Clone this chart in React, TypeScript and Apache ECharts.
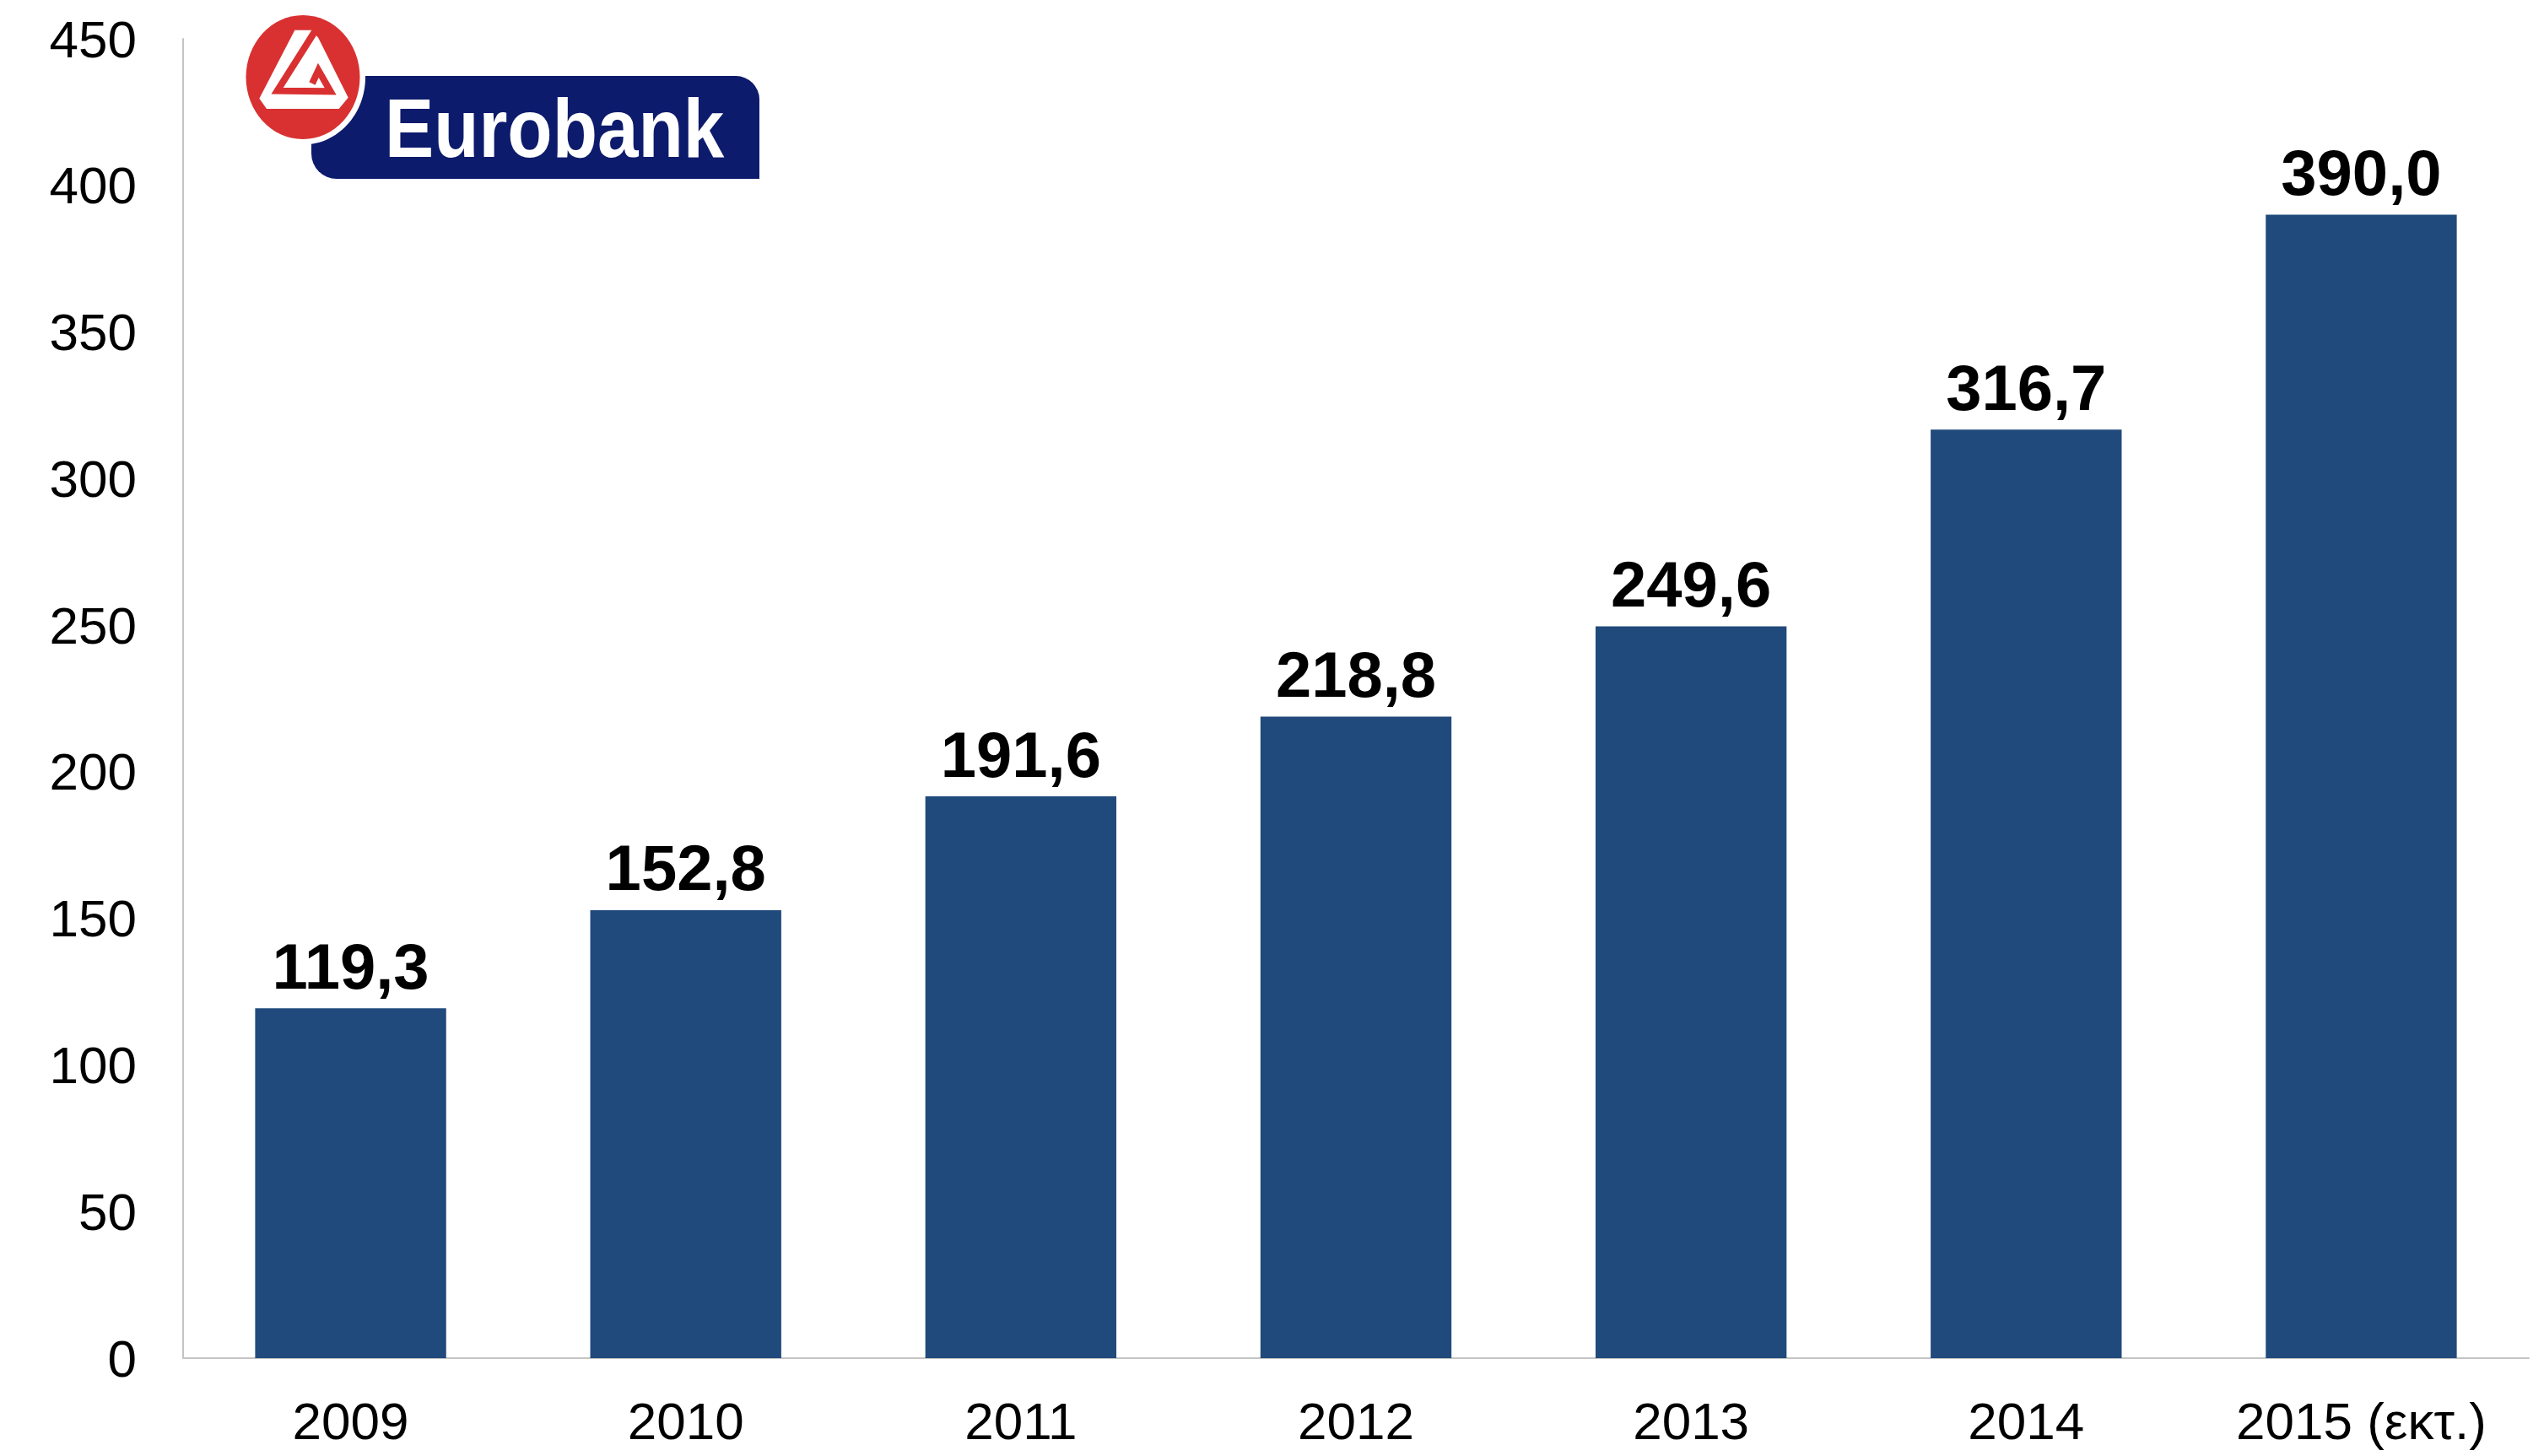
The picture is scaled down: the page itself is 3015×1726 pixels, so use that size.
import React, { useEffect, useRef } from "react";
import * as echarts from "echarts";

const categories = ["2009", "2010", "2011", "2012", "2013", "2014", "2015 (εκτ.)"];
const values = [119.3, 152.8, 191.6, 218.8, 249.6, 316.7, 390.0];
const yTicks = { min: 0, max: 450, interval: 50 };

const FONT = "'Liberation Sans', Arial, Helvetica, sans-serif";

// logo drawing helper: crop coordinates (3x) to page pixels
const s = (pts: number[][]) => pts.map(([x, y]) => [290 + x / 3, 15 + y / 3]);

export default function App() {
  const ref = useRef<HTMLDivElement>(null);
  useEffect(() => {
    if (!ref.current) return;
    const chart = echarts.init(ref.current, undefined, { renderer: "svg" });
    chart.setOption({
      animation: false,
      backgroundColor: "#ffffff",
      grid: { left: 217, right: 18, top: 46, bottom: 116, containLabel: false },
      xAxis: {
        type: "category",
        data: categories,
        axisLine: { show: true, lineStyle: { color: "#c4c4c4", width: 2 } },
        axisTick: { show: false },
        axisLabel: { color: "#000", fontFamily: FONT, fontSize: 62, margin: 43 },
      },
      yAxis: {
        type: "value",
        min: yTicks.min,
        max: yTicks.max,
        interval: yTicks.interval,
        axisLine: { show: true, lineStyle: { color: "#c4c4c4", width: 2 } },
        axisTick: { show: false },
        splitLine: { show: false },
        axisLabel: { color: "#000", fontFamily: FONT, fontSize: 62, margin: 55 },
      },
      series: [
        {
          type: "bar",
          data: values,
          barWidth: "57%",
          itemStyle: { color: "#214a7c" },
          label: {
            show: true,
            position: "top",
            distance: 12,
            color: "#000",
            fontFamily: FONT,
            fontWeight: "bold",
            fontSize: 76,
            formatter: (p: any) => Number(p.value).toFixed(1).replace(".", ","),
          },
        },
      ],
      graphic: [
        {
          type: "group",
          children: [
            {
              type: "rect",
              shape: { x: 369, y: 90, width: 531, height: 122, r: [0, 28, 0, 30] },
              style: { fill: "#0d1b6c" },
            },
            {
              type: "ellipse",
              shape: { cx: 359, cy: 91.5, rx: 74, ry: 80 },
              style: { fill: "#ffffff" },
            },
            {
              type: "ellipse",
              shape: { cx: 359, cy: 91.5, rx: 67.5, ry: 73.5 },
              style: { fill: "#d93131" },
            },
            {
              type: "polygon",
              shape: {
                points: s([
                  [178, 62],
                  [238, 62],
                  [262, 90],
                  [368, 302],
                  [335, 342],
                  [78, 342],
                  [52, 305],
                ]),
              },
              style: { fill: "#ffffff" },
            },
            {
              type: "polyline",
              shape: {
                points: s([
                  [250, 66],
                  [116, 278],
                  [305, 280],
                  [262, 205],
                  [240, 252],
                ]),
              },
              style: { stroke: "#d93131", lineWidth: 8, lineJoin: "miter", fill: null },
            },
            {
              type: "text",
              x: 456,
              y: 152,
              scaleX: 0.89,
              style: {
                text: "Eurobank",
                x: 0,
                y: 0,
                fill: "#ffffff",
                font: `bold 98px ${FONT}`,
                align: "left",
                verticalAlign: "middle",
              },
            },
          ],
        },
      ],
    });
    return () => chart.dispose();
  }, []);
  return (
    <div
      ref={ref}
      style={{ position: "absolute", left: 0, top: 0, width: 3015, height: 1726 }}
    />
  );
}
